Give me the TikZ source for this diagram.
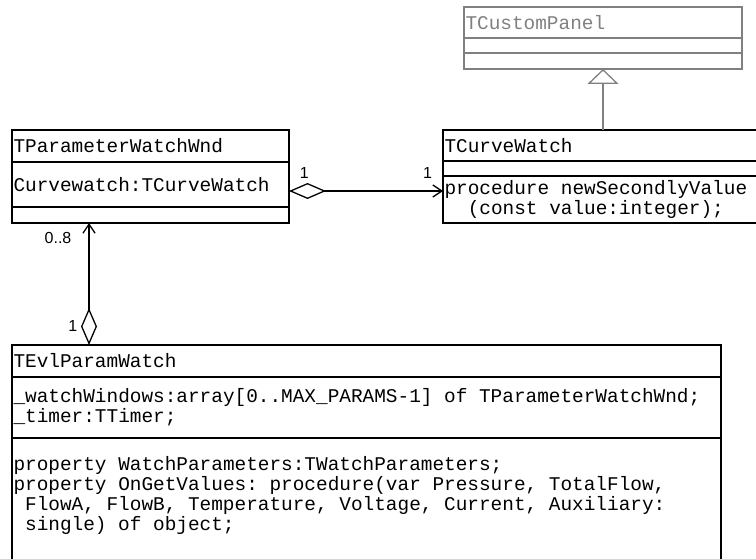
\documentclass[tikz,border=0pt]{standalone}
\usepackage{fontspec}
\newfontfamily\umlfont{Liberation Mono}
\newfontfamily\lblfont{Liberation Sans}
\usepackage{tikz}
\usetikzlibrary{
arrows.meta,
positioning
}
\definecolor{basegray}{RGB}{128,128,128}
\newcommand\umltext{\umlfont\fontsize{19.4}{20}\selectfont}
\newcommand\monospaces{\spaceskip=11.64pt\relax\xspaceskip=11.64pt\relax}

\begin{document}
\begin{tikzpicture}[
x=1pt,y=-1pt,
line width=1.3pt,
part/.style={
draw,
rectangle,
anchor=north west,
outer sep=0pt,
inner xsep=1.5pt,
inner ysep=0pt,
align=left,
font=\umltext,
execute at begin node=\monospaces
},
panel/.style={part,text width=275pt,draw=basegray,text=basegray},
curve/.style={part,text width=317pt},
wnd/.style={part,text width=274pt},
evl/.style={part,text width=706pt},
lbl/.style={font=\lblfont\fontsize{16}{18}\selectfont,inner sep=0pt},
agg/.style={{Diamond[open,length=37pt,width=16pt]}-{Straight Barb[length=9pt,width=12pt]}},
inherit/.style={draw=basegray,-{Triangle[open,length=15pt,width=31pt]}}
]
\useasboundingbox (0,0) rectangle (756,559);

% classes
\node[wnd,minimum height=32pt] (wndname) at (12,130) {TParameterWatchWnd};
\node[wnd,minimum height=45pt,below=0pt of wndname] (wndattr) {Curvewatch:TCurveWatch};
\node[wnd,minimum height=16pt,below=0pt of wndattr] (wndops) {};

\node[curve,minimum height=31pt,right=154pt of wndname.north east,anchor=north west] (cwname) {TCurveWatch};
\node[curve,minimum height=15pt,below=0pt of cwname] (cwattr) {};
\node[curve,minimum height=47pt,below=0pt of cwattr] (cwops) {procedure newSecondlyValue\\~~(const value:integer);};

\node[panel,minimum height=16pt,above=61pt of cwname] (panelops) {};
\node[panel,minimum height=15pt,above=0pt of panelops] (panelattr) {};
\node[panel,minimum height=31pt,above=0pt of panelattr] (panelname) {TCustomPanel};

\node[evl,minimum height=32pt,below=122pt of wndops.south west,anchor=north west] (evlname) {TEvlParamWatch};
\node[evl,minimum height=61pt,below=0pt of evlname] (evlattr) {\_watchWindows:array[0..MAX\_PARAMS-1] of TParameterWatchWnd;\\\_timer:TTimer;};
\node[evl,minimum height=150pt,below=0pt of evlattr] (evlops) {property WatchParameters:TWatchParameters;\\property OnGetValues: procedure(var Pressure, TotalFlow,\\~FlowA, FlowB, Temperature, Voltage, Current, Auxiliary:\\~single) of object;\\~\\~};

% relations
\coordinate (aggstart) at ([yshift=-6.5pt]wndattr.east);
\draw[agg] (aggstart) -- node[lbl,pos=0.1,above=12pt] {1} node[lbl,pos=0.9,above=12pt] {1} (aggstart -| cwops.west);
\draw[agg] ([xshift=77pt]evlname.north west) -- node[lbl,pos=0.156,left=11pt] {1} node[lbl,pos=0.877,left=17pt] {0..8} ([xshift=77pt]wndops.south west);
\draw[inherit] (cwname.north) -- (panelops.south);

\end{tikzpicture}
\end{document}
